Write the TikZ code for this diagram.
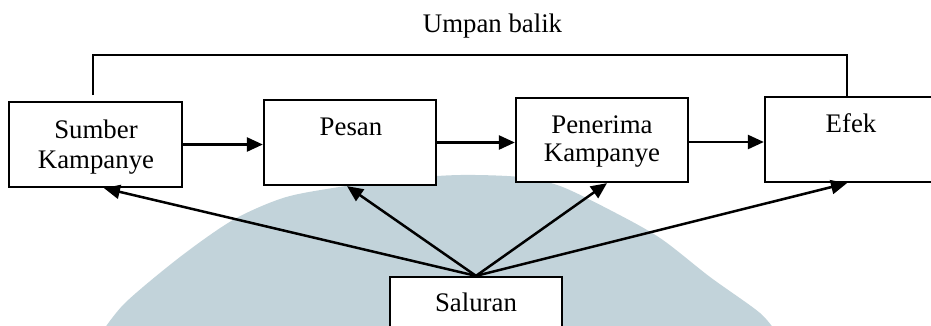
\documentclass[tikz,border=0pt]{standalone}
\usepackage{fontspec}
\setmainfont{Liberation Serif}
\usetikzlibrary{arrows.meta,calc}
\definecolor{wm}{RGB}{194,211,218}
\begin{document}
\begin{tikzpicture}[x=1pt,y=-1pt,
  box/.style={draw,line width=2.3pt,minimum width=172pt,minimum height=85pt,inner sep=0pt,fill=white},
  txt/.style={anchor=base,inner sep=0pt,font=\fontsize{26.8}{30}\selectfont},
  arr/.style={line width=2.5pt,-{Triangle[length=16pt,width=14pt]}},
  fb/.style={line width=2.3pt}]
\clip (0,0) rectangle (931,325);
\fill[white] (0,0) rectangle (931,325);
\fill[wm] plot[smooth] coordinates {(100,335) (125,303) (180,257) (233,220) (283,198) (333,188) (400,179) (460,175) (520,177) (560,186) (610,210) (660,238) (710,277) (760,313) (778,335)} -- cycle;
% boxes
\node[box,minimum width=173pt] (sumber) at (95.5,144.5) {};
\node[box] (pesan) at (350,142.5) {};
\node[box,minimum height=84pt] (penerima) at (602,140) {};
\node[box] (efek) at (851,139.5) {};
\node[box,minimum height=68pt] (saluran) at (476,311) {};
% texts
\node[txt] (t1) at (96,138) {Sumber};
\node[txt] (t2) at (96,168.5) {Kampanye};
\node[txt] (t3) at (351,135) {Pesan};
\node[txt] (t4) at (602,133) {Penerima};
\node[txt] (t5) at (602,161.5) {Kampanye};
\node[txt] (t6) at (851,132) {Efek};
\node[txt] (t7) at (476,311) {Saluran};
\node[txt] (t8) at (492.5,32) {Umpan balik};
% horizontal arrows
\draw[arr] (sumber.east) -- (sumber.east -| pesan.west);
\draw[arr] (pesan.east) -- (pesan.east -| penerima.west);
\draw[arr] ($(penerima.east)+(0,2)$) -- ($(penerima.east -| efek.west)+(0,2)$);
% feedback
\coordinate (fbl) at (93,95);
\draw[fb] (fbl) |- ($(efek.north)+(-4,-41)$) -- ($(efek.north)+(-4,0)$);
% channel arrows
\draw[arr] (saluran.north) -- ($(sumber.south)+(8.5,0)$);
\draw[arr] (saluran.north) -- ($(pesan.south)+(-3,0)$);
\draw[arr] (saluran.north) -- ($(penerima.south)+(5,0)$);
\draw[arr] (saluran.north) -- ($(efek.south)+(-4,0)$);
\end{tikzpicture}
\end{document}
